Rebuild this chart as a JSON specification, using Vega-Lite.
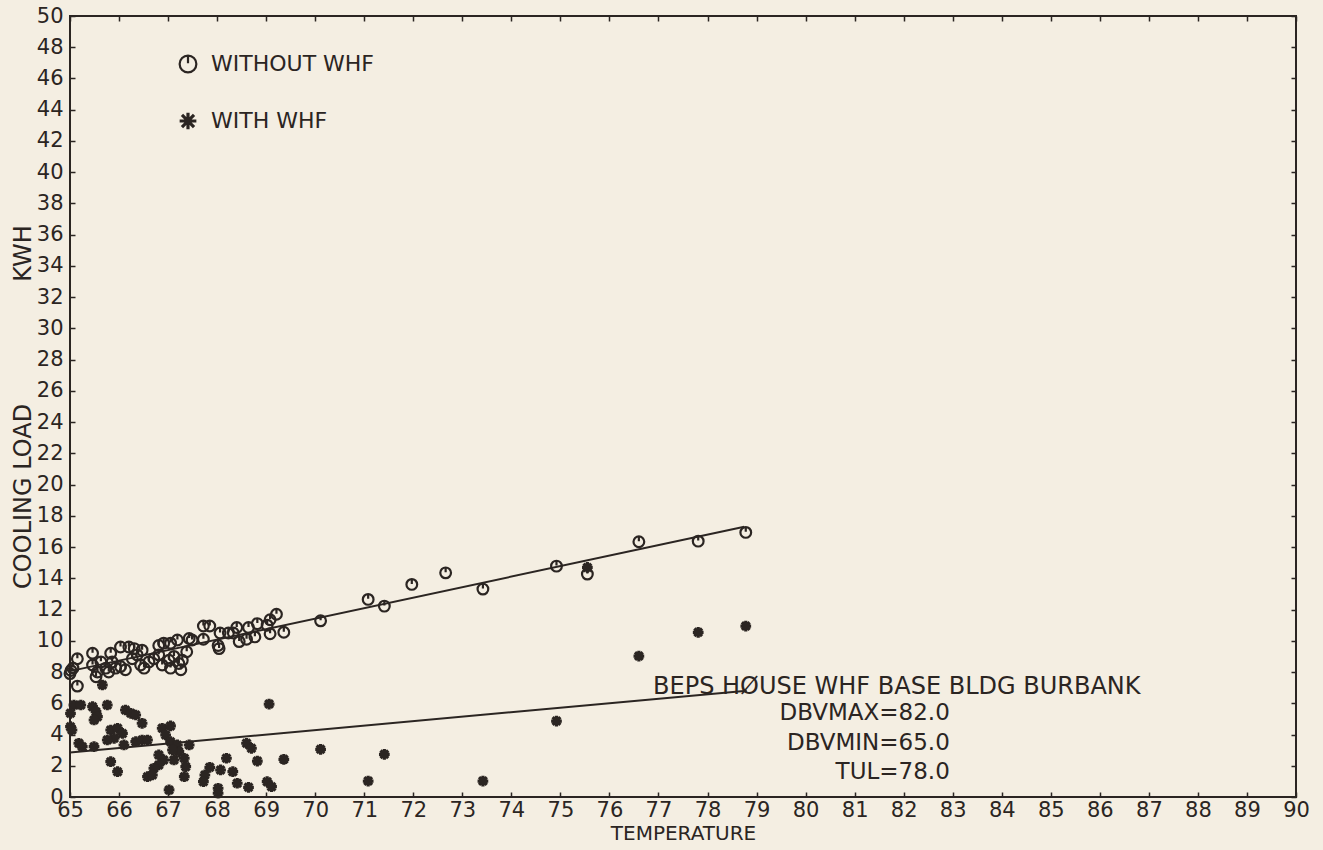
{
  "$schema": "https://vega.github.io/schema/vega-lite/v6.json",
  "width": 1226,
  "height": 781,
  "autosize": {"type": "none"},
  "padding": {"left": 70, "top": 16, "right": 27, "bottom": 53},
  "background": "#f4eee2",
  "config": {
    "view": {"stroke": "#2b2522", "strokeWidth": 2},
    "font": "DejaVu Sans",
    "axis": {
      "domain": false,
      "grid": false,
      "tickColor": "#2b2522",
      "tickWidth": 1.5,
      "labelColor": "#2b2522",
      "titleColor": "#2b2522",
      "labelFont": "DejaVu Sans",
      "titleFont": "DejaVu Sans",
      "titleFontWeight": "normal",
      "labelFlush": false,
      "labelOverlap": false
    }
  },
  "datasets": {
    "pts": [
      {"temp": 65.0, "kwh": 7.9, "series": "WITHOUT WHF"},
      {"temp": 65.02, "kwh": 8.1, "series": "WITHOUT WHF"},
      {"temp": 65.06, "kwh": 8.25, "series": "WITHOUT WHF"},
      {"temp": 65.15, "kwh": 8.85, "series": "WITHOUT WHF"},
      {"temp": 65.15, "kwh": 7.1, "series": "WITHOUT WHF"},
      {"temp": 65.46, "kwh": 9.2, "series": "WITHOUT WHF"},
      {"temp": 65.46, "kwh": 8.45, "series": "WITHOUT WHF"},
      {"temp": 65.56, "kwh": 8.0, "series": "WITHOUT WHF"},
      {"temp": 65.53, "kwh": 7.7, "series": "WITHOUT WHF"},
      {"temp": 65.63, "kwh": 8.65, "series": "WITHOUT WHF"},
      {"temp": 65.73, "kwh": 8.25, "series": "WITHOUT WHF"},
      {"temp": 65.79, "kwh": 8.0, "series": "WITHOUT WHF"},
      {"temp": 65.83, "kwh": 9.2, "series": "WITHOUT WHF"},
      {"temp": 65.86, "kwh": 8.65, "series": "WITHOUT WHF"},
      {"temp": 66.03, "kwh": 9.6, "series": "WITHOUT WHF"},
      {"temp": 66.2, "kwh": 9.6, "series": "WITHOUT WHF"},
      {"temp": 66.31, "kwh": 9.5, "series": "WITHOUT WHF"},
      {"temp": 65.93, "kwh": 8.25, "series": "WITHOUT WHF"},
      {"temp": 66.03, "kwh": 8.35, "series": "WITHOUT WHF"},
      {"temp": 66.13, "kwh": 8.15, "series": "WITHOUT WHF"},
      {"temp": 66.27, "kwh": 8.85, "series": "WITHOUT WHF"},
      {"temp": 66.37, "kwh": 9.1, "series": "WITHOUT WHF"},
      {"temp": 66.47, "kwh": 9.4, "series": "WITHOUT WHF"},
      {"temp": 66.51, "kwh": 8.25, "series": "WITHOUT WHF"},
      {"temp": 66.44, "kwh": 8.45, "series": "WITHOUT WHF"},
      {"temp": 66.61, "kwh": 8.65, "series": "WITHOUT WHF"},
      {"temp": 66.71, "kwh": 8.85, "series": "WITHOUT WHF"},
      {"temp": 66.81, "kwh": 9.1, "series": "WITHOUT WHF"},
      {"temp": 66.81, "kwh": 9.7, "series": "WITHOUT WHF"},
      {"temp": 66.91, "kwh": 9.85, "series": "WITHOUT WHF"},
      {"temp": 67.05, "kwh": 9.85, "series": "WITHOUT WHF"},
      {"temp": 67.19, "kwh": 10.05, "series": "WITHOUT WHF"},
      {"temp": 66.88, "kwh": 8.45, "series": "WITHOUT WHF"},
      {"temp": 67.02, "kwh": 8.75, "series": "WITHOUT WHF"},
      {"temp": 67.12, "kwh": 9.0, "series": "WITHOUT WHF"},
      {"temp": 67.22, "kwh": 8.55, "series": "WITHOUT WHF"},
      {"temp": 67.29, "kwh": 8.75, "series": "WITHOUT WHF"},
      {"temp": 67.05, "kwh": 8.25, "series": "WITHOUT WHF"},
      {"temp": 67.26, "kwh": 8.15, "series": "WITHOUT WHF"},
      {"temp": 67.43, "kwh": 10.15, "series": "WITHOUT WHF"},
      {"temp": 67.49, "kwh": 10.05, "series": "WITHOUT WHF"},
      {"temp": 67.38, "kwh": 9.3, "series": "WITHOUT WHF"},
      {"temp": 67.72, "kwh": 10.95, "series": "WITHOUT WHF"},
      {"temp": 67.85, "kwh": 10.95, "series": "WITHOUT WHF"},
      {"temp": 67.72, "kwh": 10.1, "series": "WITHOUT WHF"},
      {"temp": 68.04, "kwh": 9.5, "series": "WITHOUT WHF"},
      {"temp": 68.02, "kwh": 9.7, "series": "WITHOUT WHF"},
      {"temp": 68.06, "kwh": 10.5, "series": "WITHOUT WHF"},
      {"temp": 68.23, "kwh": 10.5, "series": "WITHOUT WHF"},
      {"temp": 68.33, "kwh": 10.5, "series": "WITHOUT WHF"},
      {"temp": 68.4, "kwh": 10.85, "series": "WITHOUT WHF"},
      {"temp": 68.45, "kwh": 9.95, "series": "WITHOUT WHF"},
      {"temp": 68.6, "kwh": 10.1, "series": "WITHOUT WHF"},
      {"temp": 68.77, "kwh": 10.25, "series": "WITHOUT WHF"},
      {"temp": 68.64, "kwh": 10.85, "series": "WITHOUT WHF"},
      {"temp": 68.82, "kwh": 11.1, "series": "WITHOUT WHF"},
      {"temp": 69.02, "kwh": 11.0, "series": "WITHOUT WHF"},
      {"temp": 69.08, "kwh": 11.35, "series": "WITHOUT WHF"},
      {"temp": 69.21, "kwh": 11.7, "series": "WITHOUT WHF"},
      {"temp": 69.08, "kwh": 10.45, "series": "WITHOUT WHF"},
      {"temp": 69.36, "kwh": 10.55, "series": "WITHOUT WHF"},
      {"temp": 70.11, "kwh": 11.28, "series": "WITHOUT WHF"},
      {"temp": 71.08, "kwh": 12.65, "series": "WITHOUT WHF"},
      {"temp": 71.41, "kwh": 12.22, "series": "WITHOUT WHF"},
      {"temp": 71.97, "kwh": 13.61, "series": "WITHOUT WHF"},
      {"temp": 72.66, "kwh": 14.35, "series": "WITHOUT WHF"},
      {"temp": 73.42, "kwh": 13.31, "series": "WITHOUT WHF"},
      {"temp": 74.92, "kwh": 14.78, "series": "WITHOUT WHF"},
      {"temp": 75.55, "kwh": 14.27, "series": "WITHOUT WHF"},
      {"temp": 76.6, "kwh": 16.34, "series": "WITHOUT WHF"},
      {"temp": 77.81, "kwh": 16.38, "series": "WITHOUT WHF"},
      {"temp": 78.78, "kwh": 16.94, "series": "WITHOUT WHF"},
      {"temp": 65.66, "kwh": 7.17, "series": "WITH WHF"},
      {"temp": 65.08, "kwh": 5.89, "series": "WITH WHF"},
      {"temp": 65.22, "kwh": 5.89, "series": "WITH WHF"},
      {"temp": 65.01, "kwh": 5.36, "series": "WITH WHF"},
      {"temp": 65.46, "kwh": 5.78, "series": "WITH WHF"},
      {"temp": 65.53, "kwh": 5.46, "series": "WITH WHF"},
      {"temp": 65.56, "kwh": 5.14, "series": "WITH WHF"},
      {"temp": 65.49, "kwh": 4.93, "series": "WITH WHF"},
      {"temp": 65.76, "kwh": 5.89, "series": "WITH WHF"},
      {"temp": 65.01, "kwh": 4.5, "series": "WITH WHF"},
      {"temp": 65.04, "kwh": 4.29, "series": "WITH WHF"},
      {"temp": 65.18, "kwh": 3.44, "series": "WITH WHF"},
      {"temp": 65.25, "kwh": 3.22, "series": "WITH WHF"},
      {"temp": 65.49, "kwh": 3.22, "series": "WITH WHF"},
      {"temp": 66.13, "kwh": 5.57, "series": "WITH WHF"},
      {"temp": 66.24, "kwh": 5.36, "series": "WITH WHF"},
      {"temp": 66.34, "kwh": 5.25, "series": "WITH WHF"},
      {"temp": 66.47, "kwh": 4.72, "series": "WITH WHF"},
      {"temp": 65.83, "kwh": 4.29, "series": "WITH WHF"},
      {"temp": 65.97, "kwh": 4.4, "series": "WITH WHF"},
      {"temp": 66.07, "kwh": 4.07, "series": "WITH WHF"},
      {"temp": 65.9, "kwh": 3.76, "series": "WITH WHF"},
      {"temp": 65.76, "kwh": 3.65, "series": "WITH WHF"},
      {"temp": 66.1, "kwh": 3.33, "series": "WITH WHF"},
      {"temp": 66.34, "kwh": 3.54, "series": "WITH WHF"},
      {"temp": 66.47, "kwh": 3.65, "series": "WITH WHF"},
      {"temp": 66.58, "kwh": 3.65, "series": "WITH WHF"},
      {"temp": 66.88, "kwh": 4.4, "series": "WITH WHF"},
      {"temp": 66.95, "kwh": 3.97, "series": "WITH WHF"},
      {"temp": 67.05, "kwh": 3.54, "series": "WITH WHF"},
      {"temp": 67.05, "kwh": 4.55, "series": "WITH WHF"},
      {"temp": 67.19, "kwh": 3.33, "series": "WITH WHF"},
      {"temp": 67.22, "kwh": 2.9, "series": "WITH WHF"},
      {"temp": 67.43, "kwh": 3.33, "series": "WITH WHF"},
      {"temp": 66.81, "kwh": 2.69, "series": "WITH WHF"},
      {"temp": 66.91, "kwh": 2.37, "series": "WITH WHF"},
      {"temp": 66.81, "kwh": 2.05, "series": "WITH WHF"},
      {"temp": 67.09, "kwh": 3.01, "series": "WITH WHF"},
      {"temp": 67.12, "kwh": 2.37, "series": "WITH WHF"},
      {"temp": 67.33, "kwh": 2.48, "series": "WITH WHF"},
      {"temp": 67.36, "kwh": 1.94, "series": "WITH WHF"},
      {"temp": 65.83, "kwh": 2.26, "series": "WITH WHF"},
      {"temp": 65.97, "kwh": 1.62, "series": "WITH WHF"},
      {"temp": 66.71, "kwh": 1.84, "series": "WITH WHF"},
      {"temp": 66.58, "kwh": 1.3, "series": "WITH WHF"},
      {"temp": 66.68, "kwh": 1.41, "series": "WITH WHF"},
      {"temp": 67.33, "kwh": 1.3, "series": "WITH WHF"},
      {"temp": 67.02, "kwh": 0.45, "series": "WITH WHF"},
      {"temp": 69.06, "kwh": 5.95, "series": "WITH WHF"},
      {"temp": 68.6, "kwh": 3.44, "series": "WITH WHF"},
      {"temp": 68.7, "kwh": 3.12, "series": "WITH WHF"},
      {"temp": 68.19, "kwh": 2.48, "series": "WITH WHF"},
      {"temp": 68.82, "kwh": 2.3, "series": "WITH WHF"},
      {"temp": 69.36, "kwh": 2.41, "series": "WITH WHF"},
      {"temp": 67.85, "kwh": 1.9, "series": "WITH WHF"},
      {"temp": 67.75, "kwh": 1.41, "series": "WITH WHF"},
      {"temp": 67.72, "kwh": 0.98, "series": "WITH WHF"},
      {"temp": 68.07, "kwh": 1.73, "series": "WITH WHF"},
      {"temp": 68.32, "kwh": 1.62, "series": "WITH WHF"},
      {"temp": 68.41, "kwh": 0.88, "series": "WITH WHF"},
      {"temp": 68.02, "kwh": 0.56, "series": "WITH WHF"},
      {"temp": 68.02, "kwh": 0.24, "series": "WITH WHF"},
      {"temp": 68.64, "kwh": 0.62, "series": "WITH WHF"},
      {"temp": 69.02, "kwh": 0.98, "series": "WITH WHF"},
      {"temp": 69.11, "kwh": 0.66, "series": "WITH WHF"},
      {"temp": 70.11, "kwh": 3.05, "series": "WITH WHF"},
      {"temp": 71.08, "kwh": 1.02, "series": "WITH WHF"},
      {"temp": 71.41, "kwh": 2.73, "series": "WITH WHF"},
      {"temp": 73.42, "kwh": 1.02, "series": "WITH WHF"},
      {"temp": 74.92, "kwh": 4.86, "series": "WITH WHF"},
      {"temp": 75.55, "kwh": 14.7, "series": "WITH WHF"},
      {"temp": 76.6, "kwh": 9.02, "series": "WITH WHF"},
      {"temp": 77.81, "kwh": 10.54, "series": "WITH WHF"},
      {"temp": 78.78, "kwh": 10.94, "series": "WITH WHF"}
    ],
    "fits": [
      {"temp": 65.0, "kwh": 8.06, "series": "WITHOUT WHF"},
      {"temp": 78.75, "kwh": 17.3, "series": "WITHOUT WHF"},
      {"temp": 65.0, "kwh": 2.85, "series": "WITH WHF"},
      {"temp": 78.8, "kwh": 6.8, "series": "WITH WHF"}
    ],
    "titleNote": [
      {"temp": 81.86, "kwh": 6.59, "label": "BEPS HØUSE WHF BASE BLDG BURBANK"}
    ],
    "notes": [
      {"temp": 82.94, "kwh": 4.95, "label": "DBVMAX=82.0"},
      {"temp": 82.94, "kwh": 3.01, "label": "DBVMIN=65.0"},
      {"temp": 82.94, "kwh": 1.18, "label": "TUL=78.0"}
    ]
  },
  "layer": [
    {
      "data": {"name": "fits"},
      "mark": {"type": "line", "color": "#2b2522", "strokeWidth": 2},
      "encoding": {
        "x": {
          "field": "temp", "type": "quantitative",
          "scale": {"domain": [65, 90], "nice": false, "zero": false},
          "axis": {"orient": "top", "values": [65,66,67,68,69,70,71,72,73,74,75,76,77,78,79,80,81,82,83,84,85,86,87,88,89,90], "tickSize": -5, "labels": false, "title": null}
        },
        "y": {
          "field": "kwh", "type": "quantitative",
          "scale": {"domain": [0, 50], "nice": false, "zero": false},
          "axis": {"orient": "right", "values": [0,2,4,6,8,10,12,14,16,18,20,22,24,26,28,30,32,34,36,38,40,42,44,46,48,50], "tickSize": -5, "labels": false, "title": null}
        },
        "detail": {"field": "series", "type": "nominal"}
      }
    },
    {
      "data": {"name": "pts"},
      "mark": {"type": "point", "filled": false, "opacity": 1, "color": "#2b2522"},
      "encoding": {
        "x": {
          "field": "temp", "type": "quantitative",
          "scale": {"domain": [65, 90], "nice": false, "zero": false},
          "axis": {"orient": "bottom", "values": [65,66,67,68,69,70,71,72,73,74,75,76,77,78,79,80,81,82,83,84,85,86,87,88,89,90], "tickSize": -5, "labelPadding": 7, "labelFontSize": 21, "title": "TEMPERATURE", "titleFontSize": 20, "titlePadding": 3}
        },
        "y": {
          "field": "kwh", "type": "quantitative",
          "scale": {"domain": [0, 50], "nice": false, "zero": false},
          "axis": {"orient": "left", "values": [0,2,4,6,8,10,12,14,16,18,20,22,24,26,28,30,32,34,36,38,40,42,44,46,48,50], "tickSize": -5, "labelPadding": 12, "labelFontSize": 21, "title": "COOLING LOAD\u00a0\u00a0\u00a0\u00a0\u00a0\u00a0\u00a0\u00a0\u00a0\u00a0\u00a0\u00a0\u00a0\u00a0\u00a0\u00a0KWH", "titleFontSize": 24, "titlePadding": 1}
        },
        "shape": {
          "field": "series", "type": "nominal",
          "scale": {
            "domain": ["WITHOUT WHF", "WITH WHF"],
            "range": ["M1,0A1,1,0,1,1,-1,0A1,1,0,1,1,1,0ZM0,-1L0,-0.1", "M-1,0L1,0M0,-1L0,1M-0.72,-0.72L0.72,0.72M-0.72,0.72L0.72,-0.72"]
          },
          "legend": {
            "orient": "none", "legendX": 107, "legendY": 37, "title": null,
            "labelFontSize": 22, "labelFont": "DejaVu Sans", "labelColor": "#2b2522", "labelLimit": 0,
            "symbolSize": 280, "symbolStrokeWidth": 2, "symbolStrokeColor": "#2b2522", "symbolFillColor": "transparent",
            "rowPadding": 29, "labelOffset": 12, "padding": 0
          }
        },
        "size": {"value": 115},
        "strokeWidth": {
          "field": "series", "type": "nominal",
          "scale": {"domain": ["WITHOUT WHF", "WITH WHF"], "range": [2.2, 3.2]},
          "legend": null
        }
      }
    },
    {
      "data": {"name": "titleNote"},
      "mark": {"type": "text", "align": "center", "baseline": "alphabetic", "fontSize": 24, "font": "DejaVu Sans", "color": "#2b2522"},
      "encoding": {
        "x": {"field": "temp", "type": "quantitative", "scale": {"domain": [65, 90], "nice": false, "zero": false}, "axis": null},
        "y": {"field": "kwh", "type": "quantitative", "scale": {"domain": [0, 50], "nice": false, "zero": false}, "axis": null},
        "text": {"field": "label"}
      }
    },
    {
      "data": {"name": "notes"},
      "mark": {"type": "text", "align": "right", "baseline": "alphabetic", "fontSize": 23, "font": "DejaVu Sans", "color": "#2b2522"},
      "encoding": {
        "x": {"field": "temp", "type": "quantitative", "scale": {"domain": [65, 90], "nice": false, "zero": false}, "axis": null},
        "y": {"field": "kwh", "type": "quantitative", "scale": {"domain": [0, 50], "nice": false, "zero": false}, "axis": null},
        "text": {"field": "label"}
      }
    }
  ],
  "resolve": {"axis": {"x": "independent", "y": "independent"}}
}
